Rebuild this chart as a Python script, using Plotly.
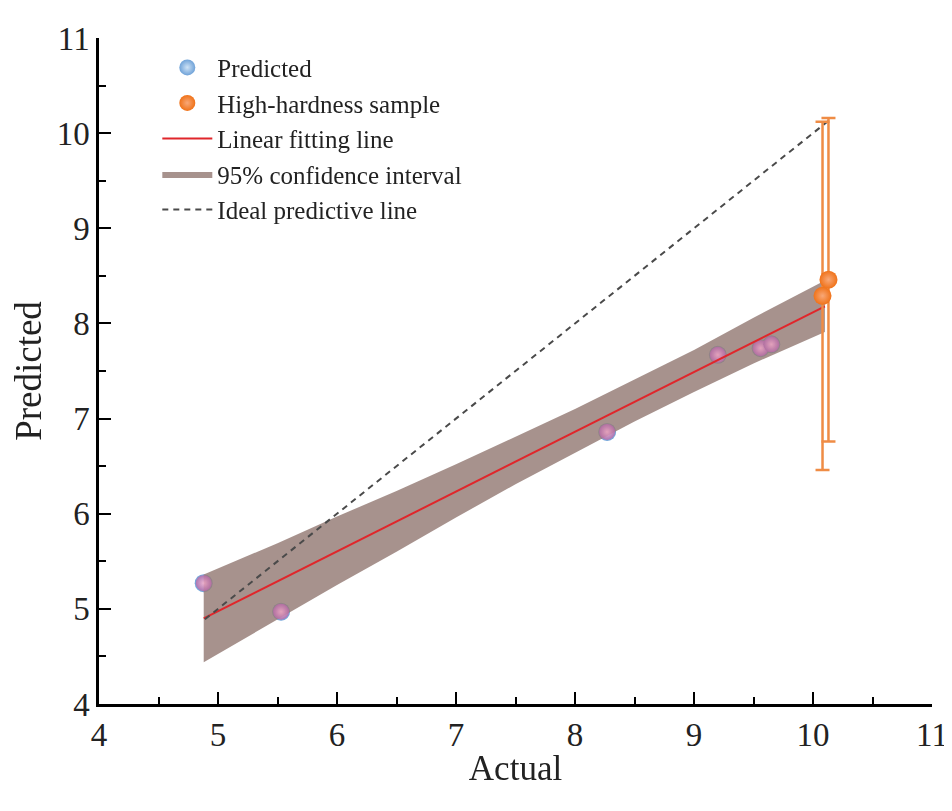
import plotly.graph_objects as go

# Predicted points (actual vs predicted)
actual = [4.88, 5.53, 8.27, 9.20, 9.56, 9.65]
predicted = [5.27, 4.97, 6.86, 7.67, 7.74, 7.78]

# High-hardness samples with error bars
hh_actual = [10.08, 10.13]
hh_pred = [8.29, 8.46]
hh_err = [1.83, 1.70]

# Linear fit and 95% confidence band
fit_x = [4.88, 10.10]
fit_y = [4.90, 8.18]
band_x = [4.88, 5.5, 6.0, 6.5, 7.0, 7.5, 8.0, 8.5, 9.0, 9.5, 10.10]
band_upper = [5.36, 5.69, 5.97, 6.24, 6.52, 6.81, 7.10, 7.41, 7.72, 8.06, 8.45]
band_lower = [4.44, 4.89, 5.25, 5.60, 5.96, 6.31, 6.64, 6.97, 7.28, 7.58, 7.91]

# Ideal predictive line (y = x)
ideal = [4.89, 10.15]

FONT = "Liberation Serif"

fig = go.Figure()

fig.add_trace(go.Scatter(
    x=actual, y=predicted, mode="markers", name="Predicted", legendrank=1,
    marker=dict(size=18, color="#6fa2d8", line=dict(width=0),
                gradient=dict(type="radial", color="#cfe3f6")),
))

# confidence band (drawn over the points, semi-transparent)
fig.add_trace(go.Scatter(
    x=band_x, y=band_lower, mode="lines", line=dict(width=0),
    showlegend=False, hoverinfo="skip",
))
fig.add_trace(go.Scatter(
    x=band_x, y=band_upper, mode="lines", line=dict(width=0),
    fill="tonexty", fillcolor="rgba(150,125,119,0.84)",
    name="95% confidence interval", legendrank=4,
))

# tint of the points seen through the band
fig.add_trace(go.Scatter(
    x=actual, y=predicted, mode="markers", showlegend=False, hoverinfo="skip",
    opacity=0.8,
    marker=dict(size=16, color="#b86aa8", line=dict(width=0),
                gradient=dict(type="radial", color="#f4a8c8")),
))

fig.add_trace(go.Scatter(
    x=fit_x, y=fit_y, mode="lines", name="Linear fitting line", legendrank=3,
    line=dict(color="#e0262b", width=2),
))

fig.add_trace(go.Scatter(
    x=ideal, y=ideal, mode="lines", name="Ideal predictive line", legendrank=5,
    line=dict(color="#4a4a4a", width=2, dash="6px,5px"),
))

fig.add_trace(go.Scatter(
    x=hh_actual, y=hh_pred, mode="markers", name="High-hardness sample", legendrank=2,
    marker=dict(size=18, color="#f07218", line=dict(width=0),
                gradient=dict(type="radial", color="#f8a878")),
    error_y=dict(type="data", array=hh_err, visible=True,
                 color="#ef8c45", thickness=2.5, width=7),
))

axis_common = dict(
    range=[4, 11], dtick=1, tick0=4, automargin=False,
    showline=True, linecolor="black", linewidth=2.5,
    ticks="inside", ticklen=12, tickwidth=2, tickcolor="black",
    minor=dict(dtick=0.5, ticks="inside", ticklen=7, tickwidth=2, tickcolor="black"),
    showgrid=False, zeroline=False,
    tickfont=dict(family=FONT, size=33, color="#222"),
)

fig.update_xaxes(**axis_common, title=dict(text="Actual", font=dict(family=FONT, size=35, color="#222"), standoff=4))
fig.update_yaxes(**axis_common, title=dict(text="Predicted", font=dict(family=FONT, size=37, color="#222"), standoff=18))

fig.update_layout(
    width=952, height=811,
    margin=dict(l=91, r=28, t=30, b=115),
    plot_bgcolor="white", paper_bgcolor="white",
    legend=dict(
        x=0.07, y=0.99, xanchor="left", yanchor="top", traceorder="normal",
        bgcolor="rgba(0,0,0,0)", font=dict(family=FONT, size=25, color="#222"),
        tracegroupgap=0, itemwidth=50,
    ),
)

fig.write_html("out.html")
